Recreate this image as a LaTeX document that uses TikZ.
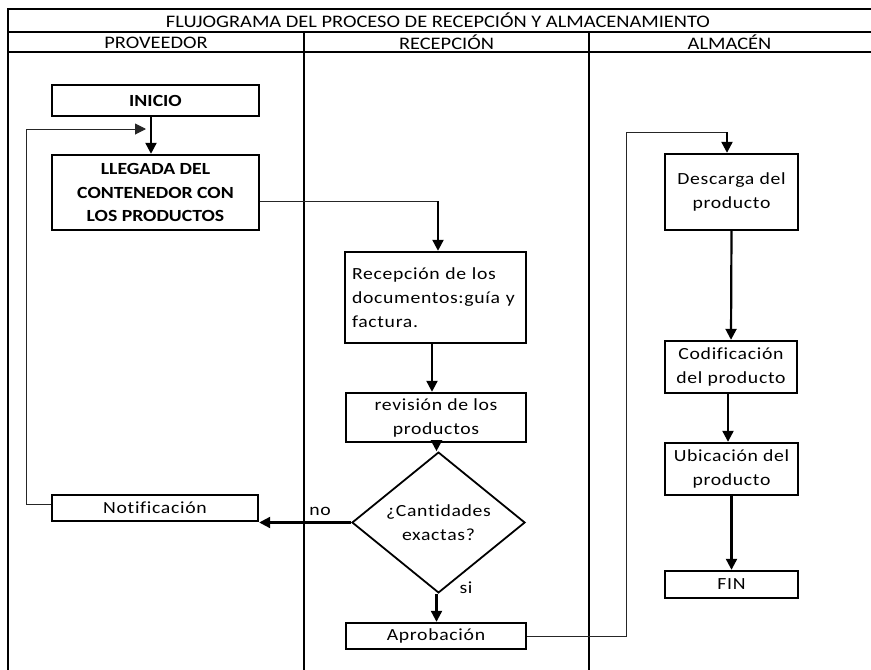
\documentclass[tikz,border=0pt]{standalone}
\usepackage{fontspec}
\setmainfont{Carlito}[FakeStretch=1.16]
\newfontfamily\bodyfont{Carlito}[FakeStretch=1.16,LetterSpace=4,Ligatures=NoCommon]
\usetikzlibrary{shapes.geometric,arrows.meta}

\begin{document}
\begin{tikzpicture}[x=1pt,y=-1pt,
  font=\fontsize{17}{23.5}\selectfont,
  lane/.style={line width=1.4pt},
  head/.style={font=\fontsize{17.6}{20}\selectfont,inner sep=0pt},
  proc/.style={draw,line width=2.4pt,inner sep=0pt,align=center,fill=white},
  body/.style={font=\bodyfont\fontsize{17}{24}\selectfont},
  capsb/.style={font=\bfseries\fontsize{17}{23.7}\selectfont},
  tip/.style={-{Triangle[length=11pt,width=11pt]}},
  flow/.style={line width=2.2pt,tip},
  link/.style={line width=1pt,black!85},
  lbl/.style={inner sep=0pt,body}]

% page
\fill[white] (0,0) rectangle (871,670);
\useasboundingbox (0,0) rectangle (871,670);

% swimlane frame
\draw[lane] (8,670) -- (8,9) -- (871,9);
\draw[lane] (8,32) -- (871,32);
\draw[lane] (8,52) -- (871,52);
\draw[lane] (304,32) -- (304,670);
\draw[lane] (589,32) -- (589,670);

\node[head] (title) at (438,20.5) {FLUJOGRAMA DEL PROCESO DE RECEPCIÓN Y ALMACENAMIENTO};
\node[head] (hprov) at (156,42.5) {PROVEEDOR};
\node[head] (hrec) at (446.5,42.5) {RECEPCIÓN};
\node[head] (halm) at (729.5,42.5) {ALMACÉN};

% proveedor
\node[proc,capsb,minimum width=207,minimum height=31] (inicio) at (155.5,100.5) {INICIO};
\node[proc,capsb,minimum width=207,minimum height=75] (llegada) at (155.5,192.5)
  {LLEGADA DEL\\CONTENEDOR CON\\LOS PRODUCTOS};
\node[proc,body,minimum width=206,minimum height=26] (notif) at (155,508) {Notificación};

% recepcion
\node[proc,body,minimum width=181,minimum height=91,text width=167,align=left] (recep) at (435.5,297.5)
  {Recepción de los\\documentos:guía y\\factura.};
\node[proc,body,minimum width=180,minimum height=49] (rev) at (436,417.5)
  {revisión de los\\productos};
\node[draw,diamond,line width=1.8pt,inner sep=0pt,minimum width=173,minimum height=119,body,align=center,fill=white]
  (dec) at (438.5,522.5) {¿Cantidades\\exactas?};
\node[proc,body,minimum width=180,minimum height=26] (aprob) at (436,636) {Aprobación};

% almacen
\node[proc,body,minimum width=133,minimum height=76] (desc) at (731.5,192) {Descarga del\\producto};
\node[proc,body,minimum width=132,minimum height=52] (codif) at (731,367) {Codificación\\del producto};
\node[proc,body,minimum width=133,minimum height=52] (ubic) at (731.5,469) {Ubicación del\\producto};
\node[proc,body,minimum width=133,minimum height=27] (fin) at (731.5,584.5) {FIN};

% loose ends of the connectors
\coordinate (fb) at (146,129);
\coordinate (rtop) at (438,201);
\coordinate (dtop) at (727,132);

% connectors
\draw[flow] ([xshift=-4.5pt]inicio.south) -- ([xshift=-4.5pt]inicio.south |- llegada.north);
\draw[link,tip] ([yshift=4pt]notif.west) -- ++(-24,0) |- (fb);
\draw[link] ([yshift=-8.5pt]llegada.east) -- (rtop);
\draw[flow] (rtop) -- (rtop |- recep.north);
\draw[flow] ([xshift=-3.5pt]recep.south) -- ([xshift=-3.5pt]recep.south |- rev.north);
\draw[flow] ([xshift=-2pt]dec.north |- rev.south) -- ([xshift=-2pt]dec.north);
\draw[flow] ([xshift=-2pt]dec.south) -- ([xshift=-2pt]dec.south |- aprob.north);
\draw[flow] (dec.west) -- (dec.west -| notif.east);
\draw[link] (aprob.east) -- ++(99,0) |- (dtop);
\draw[flow] (dtop) -- (dtop |- desc.north);
\draw[flow] (desc.south) -- (codif.north);
\draw[flow] ([xshift=-3pt]codif.south) -- ([xshift=-3pt]codif.south |- ubic.north);
\draw[flow] (ubic.south) -- (fin.north);

\node[lbl] (no) at (320,511) {no};
\node[lbl] (si) at (466,588) {si};
\end{tikzpicture}
\end{document}
